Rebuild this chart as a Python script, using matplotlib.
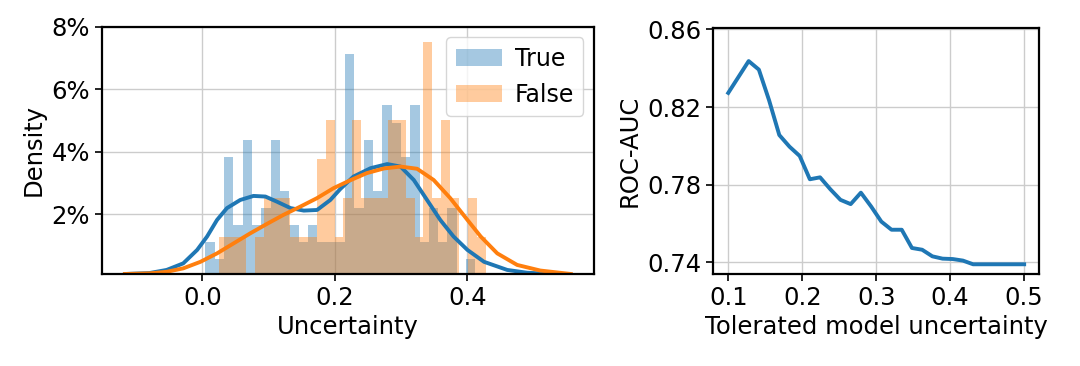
import numpy as np
import matplotlib
matplotlib.use("Agg")
import matplotlib.pyplot as plt
from matplotlib.ticker import FuncFormatter

# ---------------- data ----------------
# histogram: bin range (data units) and bar heights (density, shown with "%")
true_range = (0.0045, 0.412)
true_heights = [1.10, 0.55, 3.84, 1.64, 4.38, 1.64, 2.19, 4.38, 2.74, 1.64,
                1.10, 1.64, 1.10, 1.10, 1.10, 7.12, 2.19, 4.38, 2.74, 5.48,
                4.93, 3.84, 5.48, 1.10, 2.19, 1.10, 2.19, 0.0, 0.55]
false_range = (0.0252, 0.4274)
false_heights = [1.25, 1.25, 1.25, 0.0, 1.25, 2.5, 2.5, 2.5, 1.25, 1.25,
                 1.25, 3.75, 5.0, 1.25, 2.5, 5.0, 2.5, 2.5, 2.5, 5.0,
                 5.0, 2.5, 1.25, 7.5, 2.5, 5.0, 2.5, 0.0, 2.5, 1.25]

# KDE curves
kde_true_x = [-0.117, -0.080, -0.054, -0.029, -0.008, 0.007, 0.022, 0.037, 0.057,
              0.077, 0.095, 0.112, 0.133, 0.153, 0.173, 0.193, 0.208, 0.228,
              0.254, 0.279, 0.299, 0.319, 0.339, 0.359, 0.379, 0.400, 0.425,
              0.460, 0.490, 0.530]
kde_true_y = [0.08, 0.11, 0.21, 0.42, 0.85, 1.28, 1.81, 2.19, 2.45,
              2.58, 2.56, 2.40, 2.19, 2.11, 2.13, 2.45, 2.80, 3.20,
              3.47, 3.60, 3.52, 3.09, 2.45, 1.81, 1.28, 0.85, 0.47,
              0.21, 0.12, 0.08]
kde_false_x = [-0.117, -0.080, -0.054, -0.029, -0.003, 0.022, 0.047, 0.072, 0.097,
               0.122, 0.148, 0.173, 0.198, 0.223, 0.248, 0.274, 0.299, 0.324,
               0.349, 0.374, 0.400, 0.420, 0.445, 0.475, 0.510, 0.556]
kde_false_y = [0.08, 0.10, 0.15, 0.26, 0.47, 0.74, 1.06, 1.38, 1.68,
               1.97, 2.24, 2.51, 2.83, 3.08, 3.31, 3.46, 3.52, 3.45,
               3.09, 2.51, 1.81, 1.28, 0.74, 0.37, 0.19, 0.08]

# right panel
tolerance = [0.1, 0.1138, 0.1276, 0.1414, 0.1552, 0.1690, 0.1828, 0.1966,
             0.2103, 0.2241, 0.2379, 0.2517, 0.2655, 0.2793, 0.2931, 0.3069,
             0.3207, 0.3345, 0.3483, 0.3621, 0.3759, 0.3897, 0.4034, 0.4172,
             0.4310, 0.4448, 0.4586, 0.4724, 0.4862, 0.5]
roc_auc = [0.8273, 0.8355, 0.8437, 0.8393, 0.8235, 0.8056, 0.7996, 0.7948,
           0.7828, 0.7838, 0.7777, 0.7722, 0.7700, 0.7759, 0.7688, 0.7610,
           0.7568, 0.7568, 0.7474, 0.7465, 0.7431, 0.7419, 0.7417, 0.7409,
           0.7390, 0.7390, 0.7390, 0.7390, 0.7390, 0.7390]

BLUE = "#1f77b4"
ORANGE = "#ff7f0e"
FS = 17.5

plt.rcParams['font.family'] = ['DejaVu Sans']

fig = plt.figure(figsize=(10.8, 3.66), dpi=100)
ax1 = fig.add_axes([0.0942, 0.2514, 0.4558, 0.6757])
ax2 = fig.add_axes([0.6606, 0.2514, 0.3014, 0.6708])

# ---- left panel ----
def edges(rng, n):
    return np.linspace(rng[0], rng[1], n + 1)

e_t = edges(true_range, len(true_heights))
e_f = edges(false_range, len(false_heights))
ax1.bar(e_t[:-1], true_heights, width=np.diff(e_t), align='edge',
        color=BLUE, alpha=0.4, linewidth=0, label='True')
ax1.bar(e_f[:-1], false_heights, width=np.diff(e_f), align='edge',
        color=ORANGE, alpha=0.4, linewidth=0, label='False')
ax1.plot(kde_true_x, kde_true_y, color=BLUE, lw=2.8, solid_joinstyle='round')
ax1.plot(kde_false_x, kde_false_y, color=ORANGE, lw=2.8, solid_joinstyle='round')

ax1.set_xlim(-0.152, 0.591)
ax1.set_ylim(0.08, 8.0)
ax1.set_xticks([0.0, 0.2, 0.4])
ax1.set_yticks([2, 4, 6, 8])
ax1.yaxis.set_major_formatter(FuncFormatter(lambda v, p: f"{v:.0f}%"))
ax1.set_xlabel("Uncertainty", fontsize=FS)
ax1.set_ylabel("Density", fontsize=FS)
ax1.grid(True, color='#cccccc', lw=1.0)
ax1.set_axisbelow(True)
leg = ax1.legend(loc='upper right', fontsize=17, framealpha=0.8,
                 handlelength=1.95, handletextpad=0.55, borderpad=0.4,
                 borderaxespad=0.45)

# ---- right panel ----
ax2.plot(tolerance, roc_auc, color=BLUE, lw=2.8, solid_joinstyle='round')
ax2.set_xlim(0.08, 0.52)
ax2.set_ylim(0.734, 0.8605)
ax2.set_xticks([0.1, 0.2, 0.3, 0.4, 0.5])
ax2.set_yticks([0.74, 0.78, 0.82, 0.86])
ax2.set_xlabel("Tolerated model uncertainty", fontsize=FS)
ax2.set_ylabel("ROC-AUC", fontsize=FS)
ax2.grid(True, color='#cccccc', lw=1.0)
ax2.set_axisbelow(True)

for ax in (ax1, ax2):
    ax.tick_params(labelsize=FS, length=5, width=1.2)
    for s in ax.spines.values():
        s.set_linewidth(1.6)
        s.set_color('black')

fig.savefig("out.png", dpi=100)
